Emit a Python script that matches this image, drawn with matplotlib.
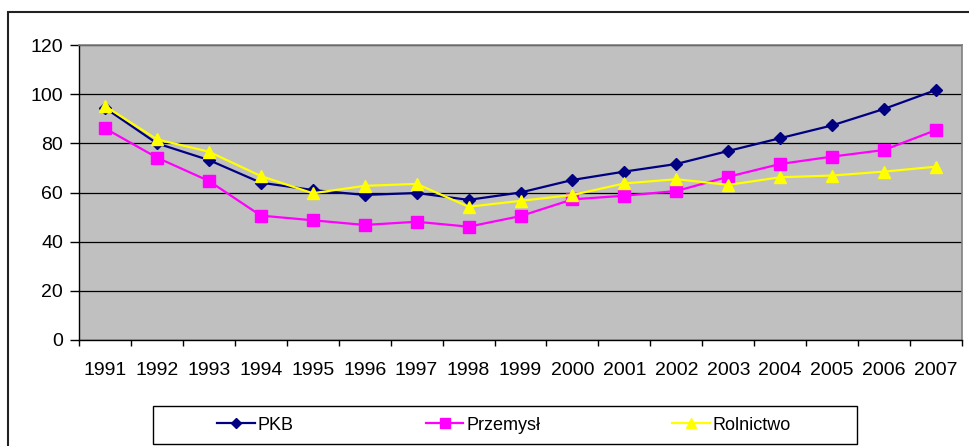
import matplotlib.pyplot as plt
import matplotlib.patches as mpatches
from matplotlib.ticker import FixedLocator

plt.rcParams['font.family'] = ['Liberation Sans', 'DejaVu Sans']

# Dane
lata = ['1991', '1992', '1993', '1994', '1995', '1996', '1997', '1998', '1999',
        '2000', '2001', '2002', '2003', '2004', '2005', '2006', '2007']
pkb = [94.4, 80.0, 73.2, 64.0, 61.0, 59.0, 59.8, 57.0, 60.0,
       65.1, 68.5, 71.6, 76.9, 82.1, 87.3, 94.0, 101.7]
przemysl = [86.1, 74.2, 64.7, 50.6, 48.7, 46.8, 48.1, 46.1, 50.4,
            57.2, 58.7, 60.6, 66.4, 71.6, 74.6, 77.3, 85.4]
rolnictwo = [95.2, 81.6, 76.6, 66.7, 59.7, 62.7, 63.5, 54.2, 56.6,
             59.0, 63.7, 65.4, 63.1, 66.2, 66.9, 68.5, 70.5]

W, H = 969, 446
fig = plt.figure(figsize=(W/100, H/100), dpi=100)
ax = fig.add_axes([79/W, 1 - 340/H, (962 - 79)/W, (340 - 45)/H])
ax.set_facecolor('#C0C0C0')

x = list(range(len(lata)))
ax.plot(x, pkb, color='#000080', marker='D', markersize=6, linewidth=1.6, label='PKB', zorder=3)
ax.plot(x, przemysl, color='#FF00FF', marker='s', markersize=9, linewidth=1.6, label='Przemysł', zorder=3)
ax.plot(x, rolnictwo, color='#FFFF00', marker='^', markersize=9, linewidth=1.6, label='Rolnictwo', zorder=4)

ax.set_xlim(-0.5, len(lata) - 0.5)
ax.set_ylim(0, 120)
ax.set_yticks(range(0, 121, 20))
ax.yaxis.grid(True, color='black', linewidth=0.9)
ax.set_axisbelow(True)

ax.set_xticks(x)
ax.set_xticklabels(lata)
ax.xaxis.set_minor_locator(FixedLocator([i - 0.5 for i in range(len(lata) + 1)]))
ax.tick_params(axis='x', which='major', length=0, pad=15.5, labelsize=14)
ax.tick_params(axis='x', which='minor', length=4, width=1, direction='out')
ax.tick_params(axis='y', length=6.5, width=1, direction='out', labelsize=14, pad=5)

for s in ['left', 'bottom']:
    ax.spines[s].set_color('black')
    ax.spines[s].set_linewidth(1)
for s in ['top', 'right']:
    ax.spines[s].set_color('#808080')
    ax.spines[s].set_linewidth(1.2)

# ramka wykresu
rama = mpatches.Rectangle((8/W, -0.2), 1.2, 1.2 - 12/H, transform=fig.transFigure,
                          fill=False, edgecolor='#222222', linewidth=1.5, clip_on=False)
fig.add_artist(rama)

# ramka legendy
ramka_leg = mpatches.Rectangle((153/W, 1 - 444/H), 704/W, 38/H, transform=fig.transFigure,
                               fill=False, edgecolor='black', linewidth=1)
fig.add_artist(ramka_leg)

leg = fig.legend(loc='center', bbox_to_anchor=(504/W, 1 - 425/H), ncol=3, frameon=False,
                 fontsize=13, handlelength=2.1, handletextpad=0.15, columnspacing=7.3,
                 borderaxespad=0, markerscale=0.8)

fig.savefig('out.png', dpi=100)
